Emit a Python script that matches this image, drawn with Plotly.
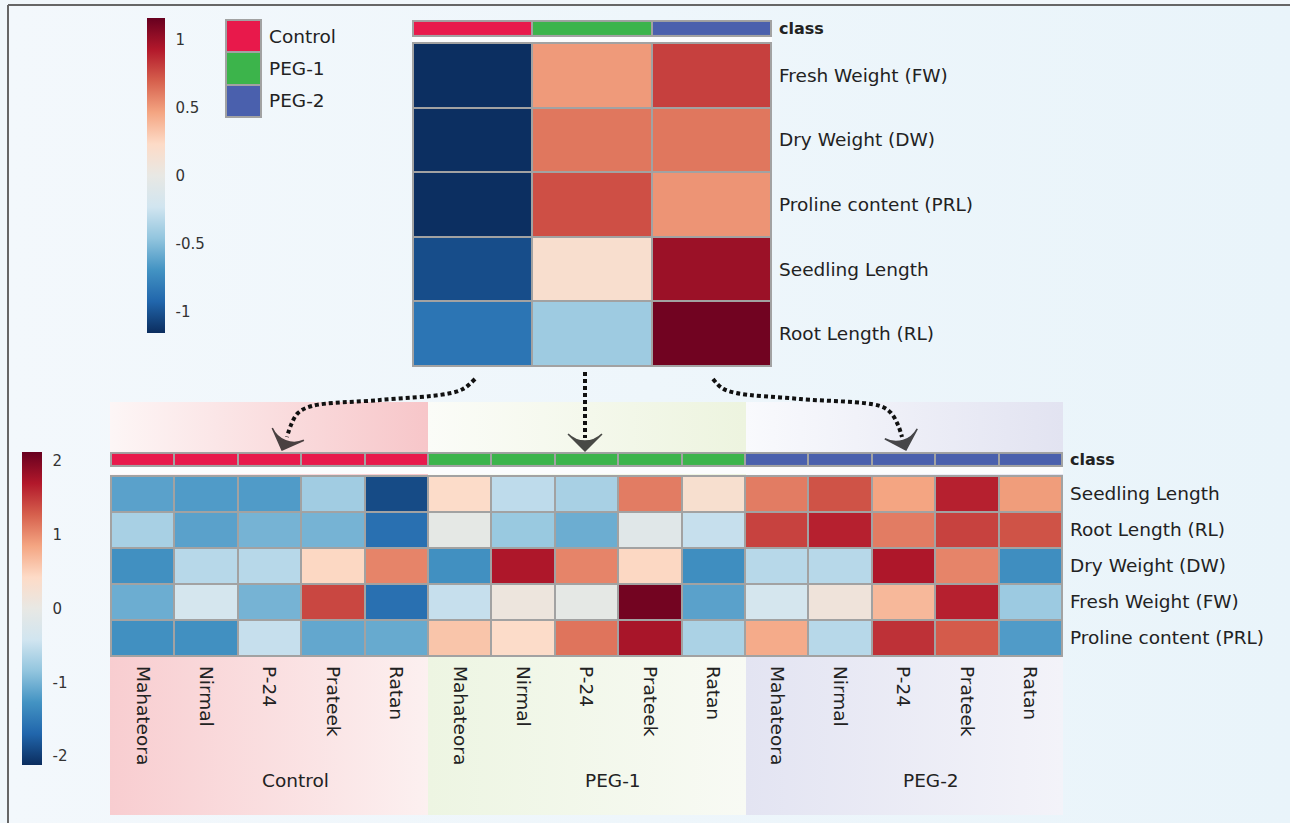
import plotly.graph_objects as go

W, H = 1290, 823

# ---- data -------------------------------------------------------------
groups = ["Control", "PEG-1", "PEG-2"]
group_colors = ["#e8194b", "#3cb44b", "#4a60ad"]
cultivars = ["Mahateora", "Nirmal", "P-24", "Prateek", "Ratan"]

top_traits = ["Fresh Weight (FW)", "Dry Weight (DW)", "Proline content (PRL)",
              "Seedling Length", "Root Length (RL)"]
# rows = traits, columns = Control, PEG-1, PEG-2 (group means, scaled)
top_values = [
    [-1.15, 0.50, 0.80],
    [-1.15, 0.62, 0.62],
    [-1.15, 0.75, 0.52],
    [-1.03, 0.18, 1.00],
    [-0.85, -0.42, 1.13],
]

bottom_traits = ["Seedling Length", "Root Length (RL)", "Dry Weight (DW)",
                 "Fresh Weight (FW)", "Proline content (PRL)"]
# rows = traits, columns = 5 cultivars x (Control, PEG-1, PEG-2)
bottom_values = [
    [-1.15, -1.20, -1.20, -0.75, -1.90, 0.40, -0.55, -0.70, 1.10, 0.30, 1.10, 1.35, 0.85, 1.65, 0.90],
    [-0.70, -1.15, -1.00, -1.00, -1.60, -0.05, -0.80, -1.05, -0.15, -0.50, 1.45, 1.65, 1.10, 1.45, 1.35],
    [-1.30, -0.60, -0.60, 0.45, 1.05, -1.30, 1.72, 1.05, 0.45, -1.32, -0.60, -0.60, 1.72, 1.05, -1.32],
    [-1.05, -0.35, -1.00, 1.42, -1.60, -0.50, 0.10, -0.05, 2.05, -1.15, -0.35, 0.15, 0.70, 1.65, -0.78],
    [-1.30, -1.30, -0.50, -1.10, -1.08, 0.60, 0.40, 1.15, 1.75, -0.68, 0.80, -0.60, 1.55, 1.30, -1.20],
]

top_ticks = [-1, -0.5, 0, 0.5, 1]
top_ticktext = ["-1", "-0.5", "0", "0.5", "1"]
bottom_ticks = [-2, -1, 0, 1, 2]
bottom_ticktext = ["-2", "-1", "0", "1", "2"]

# ---- styling ----------------------------------------------------------
RDBU = [[0.0, "#0b2d5e"], [0.1, "#2166ac"], [0.2, "#4393c3"], [0.3, "#92c5de"],
        [0.4, "#d1e5f0"], [0.5, "#e8e8e4"], [0.6, "#fddbc7"], [0.7, "#f4a582"],
        [0.8, "#d6604d"], [0.9, "#b2182b"], [1.0, "#67001f"]]
CLASS_SCALE = [[0, group_colors[0]], [1 / 3, group_colors[0]],
               [1 / 3, group_colors[1]], [2 / 3, group_colors[1]],
               [2 / 3, group_colors[2]], [1, group_colors[2]]]
GRID = "#a2a2a2"
TXT = "#222222"
FONT = "DejaVu Sans"
LABEL_SIZE = 18.5


def xdom(a, b):
    return [a / W, b / W]


def ydom(top, bottom):
    return [1 - bottom / H, 1 - top / H]


fig = go.Figure()
layout_axes = {}
shapes = []

# ---- full-page overlay axis (pixel coordinates) for panels and arrows ----
layout_axes["xaxis"] = dict(domain=[0, 1], range=[0, W], visible=False, fixedrange=True)
layout_axes["yaxis"] = dict(domain=[0, 1], range=[H, 0], visible=False, fixedrange=True)

# soft page tint, slightly bluer towards the right
fig.add_trace(go.Scatter(
    x=[8, W, W, 8, 8], y=[5, 5, H, H, 5], mode="lines", fill="toself", line=dict(width=0),
    fillgradient=dict(type="horizontal", colorscale=[[0, "#f3f8fc"], [1, "#e9f4fa"]]),
    hoverinfo="skip", xaxis="x", yaxis="y"))

panel_x = [(110, 428), (428, 746), (746, 1063)]
panel_top = [("#fdf6f6", "#f7c6c9"), ("#fbfcf8", "#edf4df"), ("#f9fafd", "#e2e3f1")]
panel_bot = [("#f8cdd0", "#fcf0f0"), ("#edf5e2", "#f8faf4"), ("#e3e4f2", "#f3f3f9")]
for (a, b), (t0, t1), (b0, b1) in zip(panel_x, panel_top, panel_bot):
    fig.add_trace(go.Scatter(
        x=[a, b, b, a, a], y=[402, 402, 475, 475, 402], mode="lines", fill="toself",
        line=dict(width=0), fillgradient=dict(type="horizontal", colorscale=[[0, t0], [1, t1]]),
        hoverinfo="skip", xaxis="x", yaxis="y"))
    fig.add_trace(go.Scatter(
        x=[a, b, b, a, a], y=[475, 475, 815, 815, 475], mode="lines", fill="toself",
        line=dict(width=0), fillgradient=dict(type="horizontal", colorscale=[[0, b0], [1, b1]]),
        hoverinfo="skip", xaxis="x", yaxis="y"))

# thin white separators between class bars and heatmaps
for (a, b, t, u) in [(412, 772, 37, 42), (110, 1063, 467, 474)]:
    fig.add_trace(go.Scatter(x=[a, b, b, a, a], y=[t, t, u, u, t], mode="lines", fill="toself",
                             line=dict(width=0), fillcolor="#fbfcfd", hoverinfo="skip",
                             xaxis="x", yaxis="y"))

# dotted arrows from the summary heatmap down to each group
arrow_paths = [
    ([475, 463, 446, 380, 312, 298, 291, 287], [379, 389, 394, 400, 406, 413, 425, 437]),
    ([585, 585], [372, 438]),
    ([713, 722, 736, 800, 880, 891, 898, 902], [379, 388, 393, 399, 406, 413, 425, 437]),
]
arrow_tips = [(282, 450), (585, 451), (906, 450)]
for (px, py), (tx, ty) in zip(arrow_paths, arrow_tips):
    fig.add_trace(go.Scatter(x=px, y=py, mode="lines",
                             line=dict(color="#111111", width=4, dash="4px,3px", shape="spline"),
                             hoverinfo="skip", xaxis="x", yaxis="y"))
    fig.add_trace(go.Scatter(x=[px[-1], tx], y=[py[-1], ty], mode="markers",
                             marker=dict(symbol="arrow-wide", size=[0, 24], color="#000000",
                                         angleref="previous",
                                         line=dict(width=1.5, color="#000000")),
                             hoverinfo="skip", xaxis="x", yaxis="y"))


def heat_axes(idx, xd, yd, nx, ny, ytext=None, xtext=None, ybold=False):
    wpx = (xd[1] - xd[0]) * W
    hpx = (yd[1] - yd[0]) * H
    px = nx / wpx
    py = ny / hpx
    xa = dict(domain=xd, range=[-0.5 - px, nx - 0.5 + px], showgrid=False, zeroline=False,
              showline=False, fixedrange=True, ticks="", anchor=f"y{idx}")
    if xtext:
        xa.update(tickmode="array", tickvals=list(range(nx)), ticktext=xtext, tickangle=90,
                  side="bottom", tickfont=dict(size=LABEL_SIZE, color=TXT, family=FONT),
                  ticklabelstandoff=8)
    else:
        xa.update(showticklabels=False)
    ya = dict(domain=yd, range=[ny - 0.5 + py, -0.5 - py], showgrid=False, zeroline=False,
              showline=False, fixedrange=True, ticks="", anchor=f"x{idx}", side="right")
    if ytext:
        ya.update(tickmode="array", tickvals=list(range(ny)), ticktext=ytext,
                  tickfont=dict(size=16 if ybold else LABEL_SIZE, color=TXT, family=FONT),
                  ticklabelstandoff=6)
    else:
        ya.update(showticklabels=False)
    layout_axes[f"xaxis{idx}"] = xa
    layout_axes[f"yaxis{idx}"] = ya
    shapes.append(dict(type="rect", xref=f"x{idx}", yref=f"y{idx}", x0=-5, x1=nx + 5,
                       y0=-5, y1=ny + 5, fillcolor=GRID, line=dict(width=0), layer="below"))


# ---- top: class bar + group-level heatmap ----
heat_axes(2, xdom(412, 772), ydom(20, 37), 3, 1, ytext=["<b>class</b>"], ybold=True)
fig.add_trace(go.Heatmap(z=[[0, 1, 2]], x=[0, 1, 2], y=[0], colorscale=CLASS_SCALE,
                         zmin=0, zmax=2, showscale=False, xgap=2, ygap=2,
                         hoverinfo="skip", xaxis="x2", yaxis="y2"))

heat_axes(3, xdom(412, 772), ydom(42, 367), 3, 5, ytext=top_traits)
fig.add_trace(go.Heatmap(
    z=top_values, x=[0, 1, 2], y=list(range(5)), colorscale=RDBU, zmin=-1.16, zmax=1.16,
    xgap=2, ygap=2, hovertemplate="%{z}<extra></extra>",
    xaxis="x3", yaxis="y3",
    colorbar=dict(x=147 / W, xref="container", xanchor="left", xpad=0,
                  y=1 - 18 / H, yref="container", yanchor="top", ypad=0,
                  len=315, lenmode="pixels", thickness=18, outlinewidth=0,
                  tickmode="array", tickvals=top_ticks, ticktext=top_ticktext,
                  ticks="outside", ticklen=8, tickcolor="rgba(0,0,0,0)",
                  tickfont=dict(size=15, color="#333333", family=FONT))))

# ---- legend swatches ----
heat_axes(6, xdom(225, 262), ydom(19, 118), 1, 3, ytext=groups)
fig.add_trace(go.Heatmap(z=[[0], [1], [2]], x=[0], y=[0, 1, 2], colorscale=CLASS_SCALE,
                         zmin=0, zmax=2, showscale=False, xgap=2, ygap=2,
                         hoverinfo="skip", xaxis="x6", yaxis="y6"))

# ---- bottom: class bar + cultivar-level heatmap ----
n_cols = len(groups) * len(cultivars)
class_row = [gi for gi in range(len(groups)) for _ in cultivars]
heat_axes(4, xdom(110, 1063), ydom(452, 467), n_cols, 1, ytext=["<b>class</b>"], ybold=True)
fig.add_trace(go.Heatmap(z=[class_row], x=list(range(n_cols)), y=[0], colorscale=CLASS_SCALE,
                         zmin=0, zmax=2, showscale=False, xgap=2, ygap=2,
                         hoverinfo="skip", xaxis="x4", yaxis="y4"))

heat_axes(5, xdom(110, 1063), ydom(475, 657), n_cols, 5, ytext=bottom_traits,
          xtext=cultivars * len(groups))
fig.add_trace(go.Heatmap(
    z=bottom_values, x=list(range(n_cols)), y=list(range(5)), colorscale=RDBU,
    zmin=-2.12, zmax=2.12, xgap=2, ygap=2, hovertemplate="%{z}<extra></extra>",
    xaxis="x5", yaxis="y5",
    colorbar=dict(x=22 / W, xref="container", xanchor="left", xpad=0,
                  y=1 - 452 / H, yref="container", yanchor="top", ypad=0,
                  len=313, lenmode="pixels", thickness=20, outlinewidth=0,
                  tickmode="array", tickvals=bottom_ticks, ticktext=bottom_ticktext,
                  ticks="outside", ticklen=8, tickcolor="rgba(0,0,0,0)",
                  tickfont=dict(size=15, color="#333333", family=FONT))))

# group names under the cultivar labels
annotations = []
for (a, b), g in zip(panel_x, groups):
    annotations.append(dict(x=(a + b) / 2 + 26, y=780, xref="x", yref="y", text=g,
                            showarrow=False, font=dict(size=LABEL_SIZE, color=TXT, family=FONT)))

# frame lines along the top and left edges
shapes.append(dict(type="line", xref="paper", yref="paper", x0=8 / W, x1=1, y0=1 - 5 / H,
                   y1=1 - 5 / H, line=dict(color="#666666", width=2), layer="above"))
shapes.append(dict(type="line", xref="paper", yref="paper", x0=8 / W, x1=8 / W, y0=0,
                   y1=1 - 5 / H, line=dict(color="#666666", width=2), layer="above"))

fig.update_layout(
    width=W, height=H, margin=dict(l=0, r=0, t=0, b=0, pad=0, autoexpand=False),
    paper_bgcolor="#f1f7fb", plot_bgcolor="rgba(0,0,0,0)",
    showlegend=False, font=dict(family=FONT, color=TXT),
    shapes=shapes, annotations=annotations, **layout_axes)

fig.write_html("out.html")
